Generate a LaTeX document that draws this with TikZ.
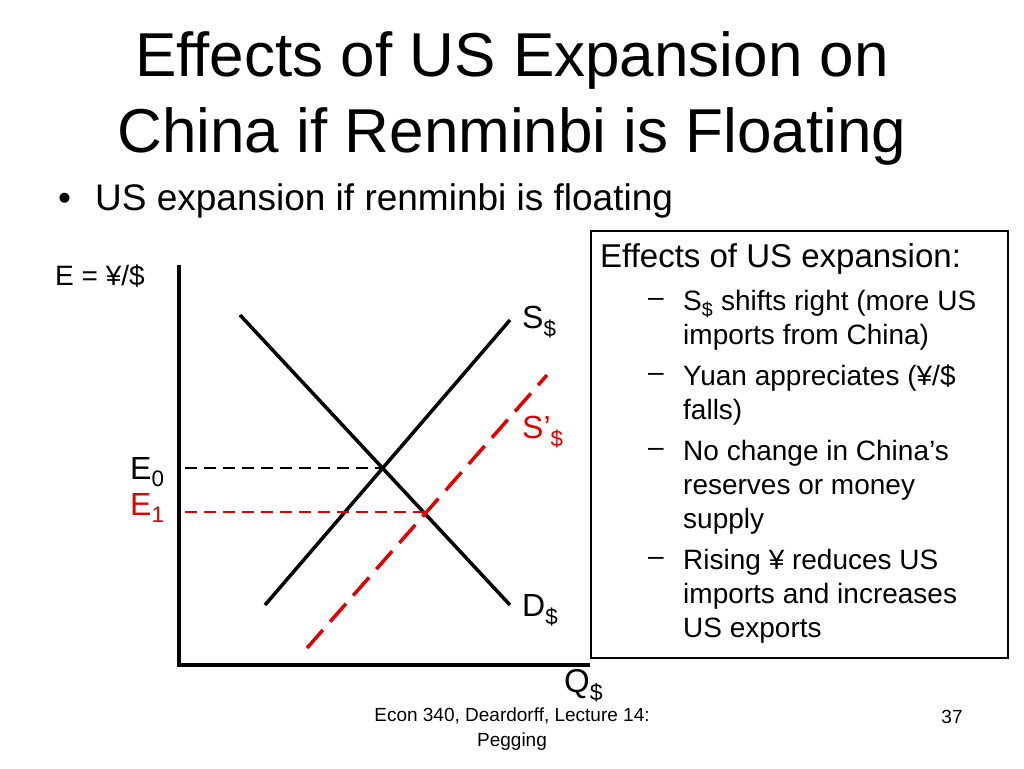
\documentclass[tikz,border=0pt]{standalone}
\usepackage{fontspec}
\setmainfont{Liberation Sans}
\begin{document}
\begin{tikzpicture}[x=1pt,y=-1pt,
  lbl/.style={inner sep=0pt,anchor=west},
  curve/.style={line width=3.5pt},
  red dash/.style={line width=3.5pt,red!90!black,dash pattern=on 24pt off 11pt},
  guide/.style={line width=2.2pt,dash pattern=on 12pt off 7pt}]
\useasboundingbox (0,0) rectangle (1024,768);
\node[inner sep=0pt,align=center,font=\fontsize{62}{76}\selectfont] (title) at (512,98) {Effects of US Expansion on\\China if Renminbi is Floating};
\node[lbl,font=\fontsize{37}{40}\selectfont] (bul) at (58,201) {•\hspace{24pt}US expansion if renminbi is floating};
% box
\node[draw,line width=2pt,minimum width=417pt,minimum height=427pt,anchor=north west,inner sep=0pt] (box) at (590,230) {};
\node[lbl,font=\fontsize{33}{36}\selectfont] (bh) at (600,259) {Effects of US expansion:};
\begin{scope}[font=\fontsize{28}{34}\selectfont]
\node[lbl] (d1) at (648,302) {–};
\node[lbl,align=left,anchor=north west] (t1) at (683,290) {S\textsubscript{\$} shifts right (more US\\imports from China)};
\node[lbl] (d2) at (648,377) {–};
\node[lbl,align=left,anchor=north west] (t2) at (683,365) {Yuan appreciates (¥/\$\\falls)};
\node[lbl] (d3) at (648,452) {–};
\node[lbl,align=left,anchor=north west] (t3) at (683,440) {No change in China’s\\reserves or money\\supply};
\node[lbl] (d4) at (648,561) {–};
\node[lbl,align=left,anchor=north west] (t4) at (683,549) {Rising ¥ reduces US\\imports and increases\\US exports};
\end{scope}
% axes
\coordinate (O) at (179,665);
\coordinate (Ytop) at (179,265);
\coordinate (Xend) at (590,665);
\draw[line width=4pt] (Ytop) -- (O) -- (Xend);
\node[lbl,font=\fontsize{28}{30}\selectfont] (ylab) at (55,276) {E = ¥/\$};
\node[lbl,font=\fontsize{33}{36}\selectfont] (xlab) at (564,686) {Q\textsubscript{\$}};
% curves
\coordinate (D1) at (240,315); \coordinate (D2) at (510,605);
\coordinate (S1) at (265,605); \coordinate (S2) at (510,320);
\coordinate (P1) at (307,648); \coordinate (P2) at (547,375);
\draw[curve] (D1) -- (D2);
\draw[curve] (S1) -- (S2);
\draw[red dash] (P1) -- (P2);
\coordinate (E0a) at (185,468); \coordinate (E0b) at (385,468);
\coordinate (E1a) at (185,512); \coordinate (E1b) at (425,512);
\draw[guide] (E0a) -- (E0b);
\draw[guide,red!90!black] (E1a) -- (E1b);
\begin{scope}[font=\fontsize{32}{36}\selectfont]
\node[lbl] (sl) at (522,322) {S\textsubscript{\$}};
\node[lbl,text=red!90!black] (spl) at (522,432) {S’\textsubscript{\$}};
\node[lbl] (dl) at (522,610) {D\textsubscript{\$}};
\node[lbl] (e0) at (130,472) {E\textsubscript{0}};
\node[lbl,text=red!90!black] (e1) at (130,508) {E\textsubscript{1}};
\end{scope}
% footer
\node[inner sep=0pt,align=center,font=\fontsize{19}{25}\selectfont] (foot) at (512,729) {Econ 340, Deardorff, Lecture 14:\\Pegging};
\node[inner sep=0pt,font=\fontsize{19}{25}\selectfont] (pg) at (952,717) {37};
\end{tikzpicture}
\end{document}
